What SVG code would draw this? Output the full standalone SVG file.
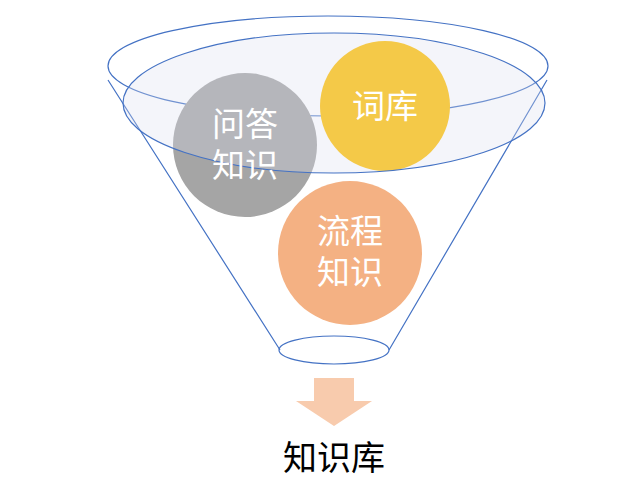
<svg xmlns="http://www.w3.org/2000/svg" width="640" height="480" viewBox="0 0 640 480">
<style>
.t{font-family:"Noto Sans CJK SC",sans-serif;fill:#fff;font-size:33px;text-anchor:middle}
.ln{fill:none;stroke:#4472C4;stroke-width:1.2}
</style>
<rect width="640" height="480" fill="#fff"/>
<g id="funnel">
<path class="ln" d="M108,80 L280,350 M547,80 L389,350"/>
<ellipse class="ln" cx="334" cy="350" rx="55" ry="14"/>
<ellipse class="ln" cx="328" cy="66" rx="220" ry="50"/>
</g>
<g id="qa"><circle cx="245" cy="145" r="72" fill="#A5A5A5"/></g>
<g id="ciku"><circle cx="385" cy="106" r="65" fill="#FFC000"/></g>
<g id="liucheng"><circle cx="350" cy="253" r="72" fill="#F4B183"/></g>
<g id="top"><ellipse cx="334" cy="103" rx="211" ry="70" fill="#D9DFF0" fill-opacity="0.3" stroke="#4472C4" stroke-width="1.2"/></g>
<g id="labels">
<text class="t" x="245" y="136">问答</text><text class="t" x="245" y="177">知识</text>
<text class="t" x="385" y="118">词库</text>
<text class="t" x="350" y="243">流程</text><text class="t" x="350" y="284">知识</text>
</g>
<g id="connectors"><path d="M314,378 H354 V401 H372 L334,426 L296,401 H314 Z" fill="#F8CBAD"/></g>
<g id="kb"><text x="334" y="470" font-family="Noto Sans CJK SC,sans-serif" font-size="34" text-anchor="middle" fill="#000">知识库</text></g>
</svg>
